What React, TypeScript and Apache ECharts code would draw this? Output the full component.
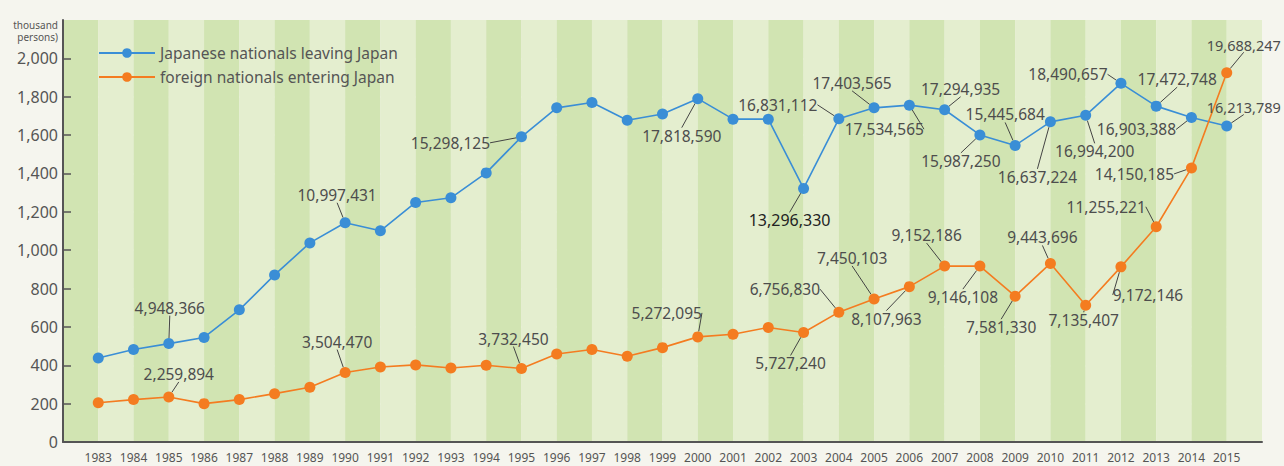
import { useEffect, useRef } from 'react';
import * as echarts from 'echarts';

// ---- data (values plotted in units of the y axis; labels are the printed figures) ----
const years = [1983, 1984, 1985, 1986, 1987, 1988, 1989, 1990, 1991, 1992, 1993, 1994, 1995, 1996, 1997, 1998, 1999, 2000, 2001, 2002, 2003, 2004, 2005, 2006, 2007, 2008, 2009, 2010, 2011, 2012, 2013, 2014, 2015];

const japaneseLeaving = [438, 482, 513, 545, 689, 871, 1038, 1143, 1101, 1249, 1273, 1403, 1591, 1742, 1770, 1677, 1710, 1790, 1683, 1683, 1322, 1685, 1742, 1756, 1732, 1601, 1546, 1669, 1703, 1870, 1751, 1692, 1647];

const foreignEntering = [205, 221, 235, 200, 221, 252, 285, 362, 391, 402, 386, 400, 383, 459, 482, 447, 492, 548, 562, 597, 571, 677, 746, 810, 917, 917, 760, 931, 713, 913, 1122, 1429, 1925];

const japaneseLabels = ['', '', '4,948,366', '', '', '', '', '10,997,431', '', '', '', '', '15,298,125', '', '', '', '', '17,818,590', '', '', '13,296,330', '16,831,112', '17,403,565', '17,534,565', '17,294,935', '15,987,250', '15,445,684', '16,637,224', '16,994,200', '18,490,657', '17,472,748', '16,903,388', '16,213,789'];

const foreignLabels = ['', '', '2,259,894', '', '', '', '', '3,504,470', '', '', '', '', '3,732,450', '', '', '', '', '5,272,095', '', '', '5,727,240', '6,756,830', '7,450,103', '8,107,963', '9,152,186', '9,146,108', '7,581,330', '9,443,696', '7,135,407', '9,172,146', '11,255,221', '14,150,185', '19,688,247'];

const yTicks = [0, 200, 400, 600, 800, 1000, 1200, 1400, 1600, 1800, 2000];

const seriesNames = ['Japanese nationals leaving Japan', 'foreign nationals entering Japan'];
const unitLabel = 'thousand\npersons)';

// ---- label placement (pixel offset of label centre from its point), keyed by year ----
const jpOffsets: Record<number, [number, number]> = {
  1985: [1, -36], 1990: [-8, -28], 1995: [-71, 6], 2000: [-16, 37], 2003: [-14, 32],
  2004: [-61, -14], 2005: [-22, -25], 2006: [-25, 24], 2007: [16, -21], 2008: [-19, 26],
  2009: [-10, -31], 2010: [-13, 55], 2011: [9, 36], 2012: [-53, -9], 2013: [21, -27],
  2014: [-55, 12], 2015: [17, -19],
};
const fnOffsets: Record<number, [number, number]> = {
  1985: [10, -23], 1990: [-8, -31], 1995: [-8, -30], 2000: [-31, -24], 2003: [-13, 31],
  2004: [-54, -23], 2005: [-22, -41], 2006: [-23, 32], 2007: [-18, -31], 2008: [-17, 31],
  2009: [-14, 31], 2010: [-8, -26], 2011: [-2, 15], 2012: [27, 28], 2013: [-50, -20],
  2014: [-57, 6], 2015: [17, -28],
};
const strongLabels: Record<string, boolean> = { '13,296,330': true };
const edgeYears: Record<number, boolean> = { 2015: true };

const BLUE = '#3a8ed6';
const ORANGE = '#f47c20';
const TEXT = '#4d4d4d';
const LABEL_FONT = '"Noto Sans", sans-serif';

function buildData(values: number[], labels: string[]) {
  return values.map((v, i) => {
    const text = labels[i];
    const strong = strongLabels[text];
    return {
      value: [years[i], v],
      label: text
        ? {
            show: true,
            formatter: text,
            color: strong ? '#222' : TEXT,
            fontSize: strong ? 16 : edgeYears[years[i]] ? 14.5 : 15.5,
          }
        : { show: false },
    };
  });
}

function makeSeries(name: string, color: string, values: number[], labels: string[], offsets: Record<number, [number, number]>) {
  return {
    name,
    type: 'line',
    z: 3,
    data: buildData(values, labels),
    symbol: 'circle',
    symbolSize: 11,
    itemStyle: { color },
    lineStyle: { color, width: 1.6 },
    label: {
      show: false,
      position: 'inside',
      fontFamily: LABEL_FONT,
      color: TEXT,
      padding: [3, 4],
    },
    labelLine: { show: true, lineStyle: { color: '#444', width: 1 } },
    labelLayout: (params: any) => {
      const off = offsets[years[params.dataIndex]];
      return off ? { dx: off[0], dy: off[1] } : {};
    },
  };
}

export default function App() {
  const ref = useRef<HTMLDivElement>(null);
  useEffect(() => {
    if (!ref.current) return;
    const chart = echarts.init(ref.current, undefined, { renderer: 'svg' });
    chart.setOption({
      animation: false,
      backgroundColor: '#f5f5ee',
      grid: { left: 63, right: 22, top: 20, bottom: 24 },
      legend: {
        orient: 'vertical',
        left: 93,
        top: 40,
        itemWidth: 56,
        itemHeight: 12,
        itemGap: 8,
        textStyle: { fontFamily: LABEL_FONT, fontSize: 15.5, color: '#555', lineHeight: 16 },
        data: seriesNames,
      },
      xAxis: {
        type: 'value',
        min: years[0] - 1,
        max: years[years.length - 1] + 1,
        interval: 1,
        axisLine: { show: true, onZero: false, lineStyle: { color: '#555', width: 2 } },
        axisTick: { show: false },
        splitLine: { show: false },
        splitArea: { show: true, areaStyle: { color: ['#d1e4b2', '#e4eecf'] } },
        axisLabel: {
          fontFamily: LABEL_FONT,
          fontSize: 12,
          color: '#555',
          margin: 9,
          formatter: (v: number) => (years.indexOf(v) >= 0 ? String(v) : ''),
        },
      },
      yAxis: {
        type: 'value',
        min: 0,
        max: 2200,
        interval: 200,
        axisLine: { show: true, lineStyle: { color: '#555', width: 2 } },
        axisTick: { show: true, inside: true, length: 8, customValues: yTicks, lineStyle: { color: '#555', width: 1.5 } },
        axisLabel: {
          customValues: yTicks,
          fontFamily: LABEL_FONT,
          fontSize: 16,
          color: '#555',
          margin: 5,
          formatter: (v: number) => v.toLocaleString('en-US'),
        },
        splitLine: { show: true, lineStyle: { color: '#ffffff', width: 1.5 } },
      },
      graphic: [
        {
          type: 'text',
          x: 58,
          y: 19,
          style: {
            text: unitLabel,
            align: 'right',
            verticalAlign: 'top',
            fontSize: 10,
            lineHeight: 12,
            fontFamily: LABEL_FONT,
            fill: '#555',
          },
        },
      ],
      series: [
        makeSeries(seriesNames[0], BLUE, japaneseLeaving, japaneseLabels, jpOffsets),
        makeSeries(seriesNames[1], ORANGE, foreignEntering, foreignLabels, fnOffsets),
      ],
    });
    return () => chart.dispose();
  }, []);
  return (
    <div
      ref={ref}
      style={{ position: 'fixed', left: 0, top: 0, width: 1284, height: 466, background: '#f5f5ee' }}
    />
  );
}
